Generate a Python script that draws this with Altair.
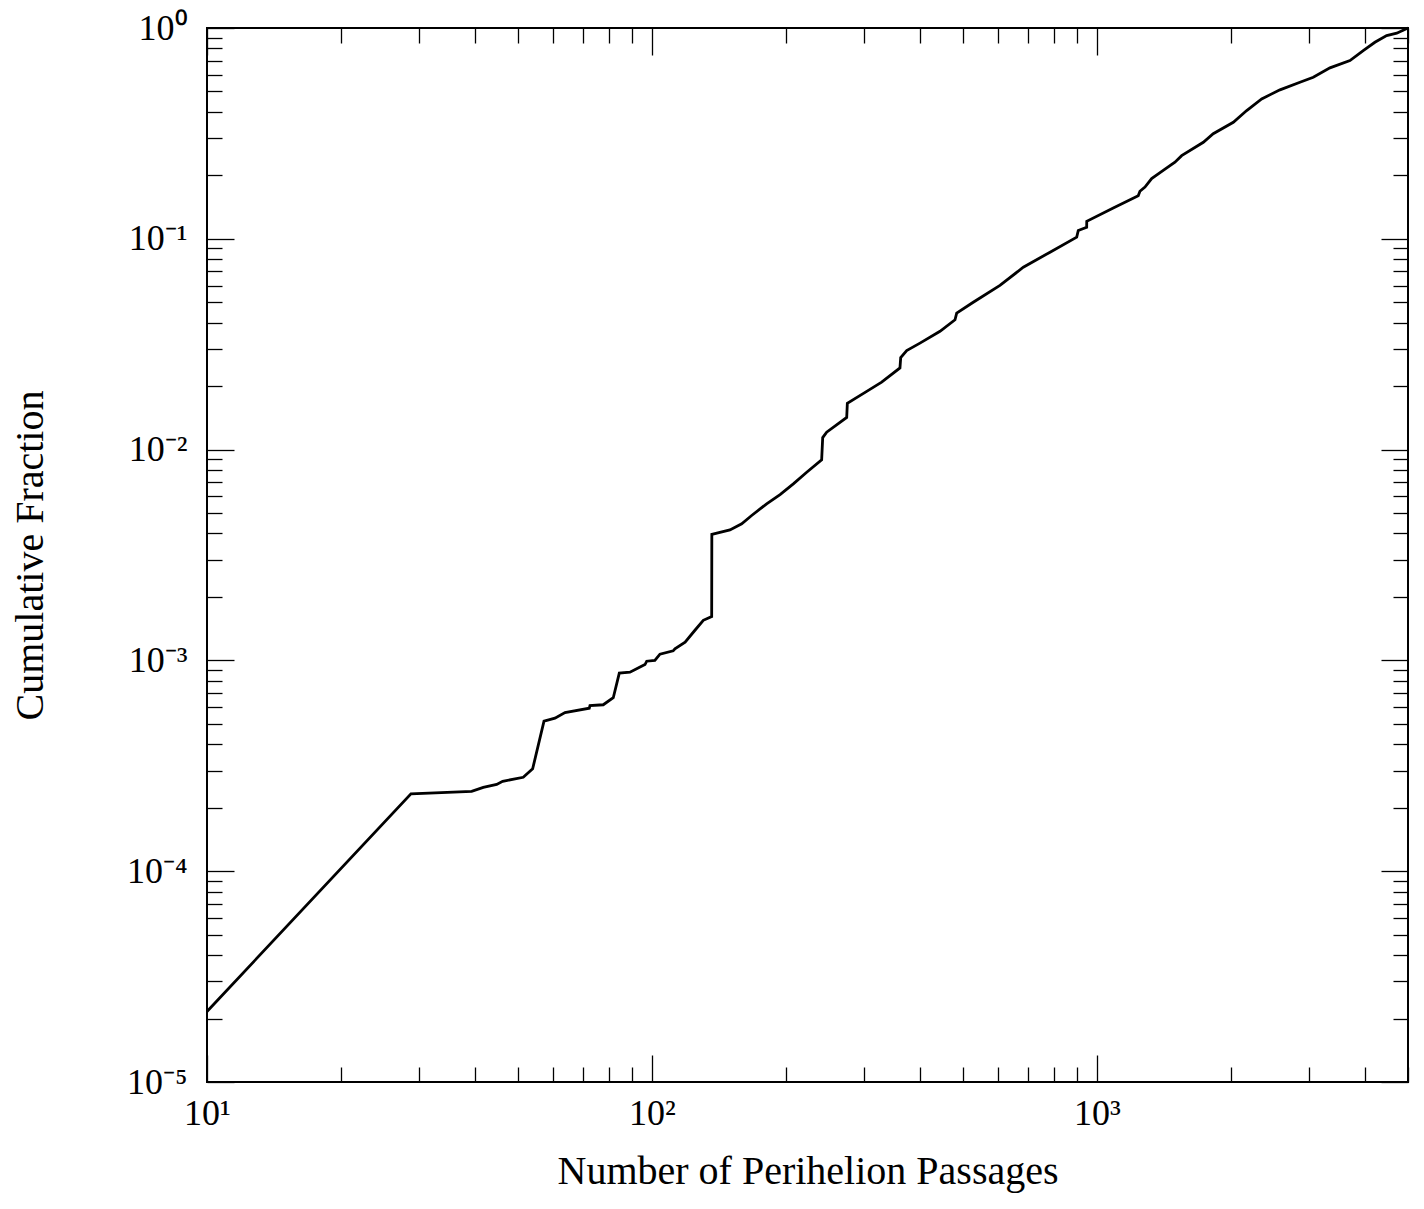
import altair as alt
import pandas as pd

# ---- data (cumulative distribution) ----
PASSAGES = [10.0, 28.73, 39.33, 41.77, 44.77, 46.18, 51.37, 53.93, 57.19, 60.53,
            63.75, 72.29, 72.55, 77.71, 81.85, 84.44, 89.24, 92.38, 96.45, 97.30,
            101.5, 104.2, 111.6, 112.6, 118.7, 124.9, 130.4, 136.2, 136.3, 149.7,
            159.1, 167.5, 181.0, 194.0, 207.8, 222.7, 240.6, 241.9, 246.9, 273.9,
            274.8, 303.8, 328.2, 360.8, 362.2, 373.6, 400.2, 443.9, 479.7, 483.9,
            527.2, 605.3, 683.1, 784.4, 900.5, 907.8, 948.1, 948.5, 1088, 1238,
            1249, 1282, 1327, 1409, 1497, 1550, 1734, 1825, 2025, 2170,
            2345, 2578, 2859, 3063, 3339, 3703, 3966, 4213, 4477, 4717, 5000]
FRACTION = [2.16e-5, 2.33e-4, 2.39e-4, 2.50e-4, 2.58e-4, 2.67e-4, 2.79e-4, 3.06e-4, 5.15e-4, 5.32e-4,
            5.66e-4, 5.93e-4, 6.11e-4, 6.16e-4, 6.65e-4, 8.70e-4, 8.79e-4, 9.12e-4, 9.56e-4, 9.91e-4,
            9.99e-4, 1.07e-3, 1.11e-3, 1.135e-3, 1.22e-3, 1.39e-3, 1.55e-3, 1.615e-3, 3.96e-3, 4.16e-3,
            4.45e-3, 4.87e-3, 5.53e-3, 6.12e-3, 6.88e-3, 7.81e-3, 8.95e-3, 1.14e-2, 1.21e-2, 1.42e-2,
            1.66e-2, 1.89e-2, 2.09e-2, 2.44e-2, 2.73e-2, 2.95e-2, 3.20e-2, 3.64e-2, 4.13e-2, 4.44e-2,
            5.00e-2, 6.01e-2, 7.33e-2, 8.64e-2, 0.1018, 0.1095, 0.1135, 0.121, 0.140, 0.160,
            0.168, 0.176, 0.193, 0.211, 0.231, 0.248, 0.287, 0.315, 0.357, 0.406,
            0.461, 0.509, 0.553, 0.584, 0.647, 0.701, 0.782, 0.856, 0.921, 0.945, 1.0]

# ---- axis ticks and labels ----
X_DOMAIN = [10, 5000]
Y_DOMAIN = [1e-5, 1]
X_MAJOR = [10, 100, 1000]
X_MINOR = [20, 30, 40, 50, 60, 70, 80, 90,
           200, 300, 400, 500, 600, 700, 800, 900,
           2000, 3000, 4000, 5000]
X_LABELS = ["10\u00b9", "10\u00b2", "10\u00b3"]
Y_MAJOR = [1e-5, 1e-4, 1e-3, 1e-2, 1e-1, 1]
Y_MINOR = [m * d for d in [1e-5, 1e-4, 1e-3, 1e-2, 1e-1] for m in [2, 3, 4, 5, 6, 7, 8, 9]]
Y_LABELS = ["10\u207b\u2075", "10\u207b\u2074", "10\u207b\u00b3", "10\u207b\u00b2", "10\u207b\u00b9", "10\u2070"]

X_TITLE = "Number of Perihelion Passages"
Y_TITLE = "Cumulative Fraction"

FONT = "Liberation Serif"
MAJOR_LEN = 27
MINOR_LEN = 15

df = pd.DataFrame({"n": PASSAGES, "f": FRACTION, "i": list(range(len(PASSAGES)))})

xscale = alt.Scale(type="log", domain=X_DOMAIN, nice=False)
yscale = alt.Scale(type="log", domain=Y_DOMAIN, nice=False)


def js_list(items):
    return "[" + ",".join("'" + s + "'" for s in items) + "]"


x_label_expr = js_list(X_LABELS) + "[round(log(datum.value)/LN10) - 1]"
y_label_expr = js_list(Y_LABELS) + "[round(log(datum.value)/LN10) + 5]"

common = dict(domain=False, grid=False, tickColor="black", tickWidth=1.3)


def plain_axis(values, orient, length):
    return alt.Axis(values=values, orient=orient, tickSize=length, offset=-length,
                    labels=False, title="", **common)


x_main_axis = alt.Axis(values=X_MAJOR, orient="bottom", tickSize=MAJOR_LEN, offset=-MAJOR_LEN,
                       labelExpr=x_label_expr, labelFont=FONT, labelFontSize=36,
                       labelColor="black", labelPadding=14, labelFlush=False,
                       title=X_TITLE, titleFont=FONT, titleFontSize=40,
                       titleFontWeight="normal", titleColor="black", titlePadding=20,
                       **common)
y_main_axis = alt.Axis(values=Y_MAJOR, orient="left", tickSize=MAJOR_LEN, offset=-MAJOR_LEN,
                       labelExpr=y_label_expr, labelFont=FONT, labelFontSize=36,
                       labelColor="black", labelPadding=20, labelFlush=False,
                       title=Y_TITLE, titleFont=FONT, titleFontSize=40,
                       titleFontWeight="normal", titleColor="black", titlePadding=76,
                       **common)

base = alt.Chart(df)

curve = base.mark_line(color="black", strokeWidth=2.8).encode(
    x=alt.X("n:Q", scale=xscale, axis=x_main_axis),
    y=alt.Y("f:Q", scale=yscale, axis=y_main_axis),
    order="i:Q",
)

minor_bl = base.mark_line(strokeOpacity=0).encode(
    x=alt.X("n:Q", scale=xscale, axis=plain_axis(X_MINOR, "bottom", MINOR_LEN)),
    y=alt.Y("f:Q", scale=yscale, axis=plain_axis(Y_MINOR, "left", MINOR_LEN)),
    order="i:Q",
)

major_tr = base.mark_line(strokeOpacity=0).encode(
    x=alt.X("n:Q", scale=xscale, axis=plain_axis(X_MAJOR, "top", MAJOR_LEN)),
    y=alt.Y("f:Q", scale=yscale, axis=plain_axis(Y_MAJOR, "right", MAJOR_LEN)),
    order="i:Q",
)

minor_tr = base.mark_line(strokeOpacity=0).encode(
    x=alt.X("n:Q", scale=xscale, axis=plain_axis(X_MINOR, "top", MINOR_LEN)),
    y=alt.Y("f:Q", scale=yscale, axis=plain_axis(Y_MINOR, "right", MINOR_LEN)),
    order="i:Q",
)

chart = (
    alt.layer(curve, minor_bl, major_tr, minor_tr)
    .resolve_axis(x="independent", y="independent")
    .properties(
        width=1201,
        height=1054,
        padding={"left": 199, "top": 20, "right": 8, "bottom": 119},
        autosize=alt.AutoSizeParams(type="none"),
        background="white",
    )
    .configure_view(stroke="black", strokeWidth=2)
)

chart.save("out.html", embed_options={"renderer": "svg", "actions": False})
